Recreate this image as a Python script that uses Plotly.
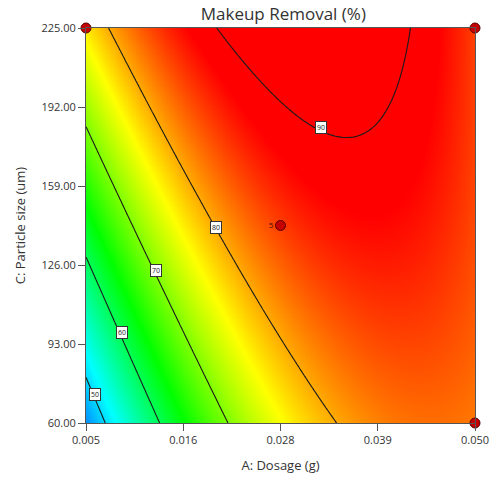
import numpy as np
import plotly.graph_objects as go

# ---- axis definitions ----
A_range = [0.005, 0.050]
C_range = [60.0, 225.0]
x_tickvals = [0.005, 0.01625, 0.0275, 0.03875, 0.050]
x_ticktext = ["0.005", "0.016", "0.028", "0.039", "0.050"]
y_tickvals = [60, 93, 126, 159, 192, 225]
y_ticktext = ["60.00", "93.00", "126.00", "159.00", "192.00", "225.00"]

# ---- contour readings from the picture (A, C) per level ----
c90_A = [0.0203, 0.0256, 0.0322, 0.0350, 0.0411, 0.0422]
c90_C = [225.0, 200.5, 183.6, 179.3, 200.5, 225.0]
c80_A = [0.00755, 0.01193, 0.01802, 0.02008, 0.0342]
c80_C = [225.0, 194.9, 153.2, 141.5, 60.0]
c70_A = [0.005, 0.01311, 0.02133]
c70_C = [183.8, 123.9, 60.0]
c60_A = [0.005, 0.00911, 0.01345]
c60_C = [128.8, 97.6, 60.0]
c50_A = [0.005, 0.00717]
c50_C = [78.9, 60.0]

# ---- extra readings estimated from the shading ----
shade_A = [0.050, 0.050, 0.050, 0.0275, 0.039]
shade_C = [60.0, 225.0, 142.0, 142.5, 100.0]
shade_z = [82.4, 85.2, 84.7, 87.3, 84.2]

# ---- contour label positions ----
lab_A = [0.00603, 0.00911, 0.01311, 0.02008, 0.03218]
lab_C = [71.7, 97.6, 123.9, 141.5, 183.6]
lab_text = ["50", "60", "70", "80", "90"]

# ---- design points ----
dp_A = [0.005, 0.050, 0.050, 0.0275]
dp_C = [225.0, 225.0, 60.0, 142.5]
dp_text = ["", "", "", "5"]

# ---- quadratic response surface fitted to the readings ----
def coded(a, c):
    a = np.asarray(a, float); c = np.asarray(c, float)
    x = (a - 0.0275) / 0.0225
    y = (c - 142.5) / 82.5
    return x, y

def basis(x, y):
    return np.stack([np.ones_like(x), x, y, x * y, x * x, y * y], axis=-1)

pts_A, pts_C, pts_z, pts_w = [], [], [], []
for lev, aa, cc in [(90, c90_A, c90_C), (80, c80_A, c80_C), (70, c70_A, c70_C),
                    (60, c60_A, c60_C), (50, c50_A, c50_C)]:
    pts_A += aa; pts_C += cc; pts_z += [lev] * len(aa); pts_w += [1.0] * len(aa)
pts_A += shade_A; pts_C += shade_C; pts_z += shade_z; pts_w += [0.5] * len(shade_A)
px, py = coded(pts_A, pts_C)
W = np.array(pts_w)
coef, *_ = np.linalg.lstsq(basis(px, py) * W[:, None], np.array(pts_z, float) * W, rcond=None)

gA = np.linspace(A_range[0], A_range[1], 241)
gC = np.linspace(C_range[0], C_range[1], 241)
GA, GC = np.meshgrid(gA, gC)
gx, gy = coded(GA, GC)
Z = basis(gx, gy) @ coef

zmin, zmax = 42.0, 92.0
stops = [(42, "#0046ff"), (52, "#00ffff"), (64, "#00ff00"), (76, "#ffff00"),
         (88, "#ff0000"), (92, "#ff0000")]
colorscale = [[(v - zmin) / (zmax - zmin), col] for v, col in stops]

fig = go.Figure()
fig.add_trace(go.Heatmap(x=gA, y=gC, z=Z, colorscale=colorscale, zmin=zmin, zmax=zmax,
                         zsmooth="best", showscale=False, hoverinfo="skip"))
fig.add_trace(go.Contour(x=gA, y=gC, z=Z, showscale=False, hoverinfo="skip",
                         contours=dict(start=50, end=90, size=10, coloring="none"),
                         line=dict(color="#1a1a1a", width=1.1)))
fig.add_trace(go.Scatter(x=dp_A, y=dp_C, mode="markers+text", text=dp_text,
                         textposition="middle left", cliponaxis=False,
                         textfont=dict(size=8, color="#3a1010", family="Open Sans"),
                         marker=dict(size=10, color="#c40000",
                                     line=dict(color="#5a0000", width=1)),
                         hoverinfo="skip", showlegend=False))

for a, c, t in zip(lab_A, lab_C, lab_text):
    fig.add_annotation(x=a, y=c, text=t, showarrow=False,
                       font=dict(size=7, color="#222", family="Open Sans"),
                       bgcolor="white", bordercolor="#333", borderwidth=1, borderpad=1)

axis_common = dict(showgrid=False, zeroline=False, ticks="outside", ticklen=7,
                   tickcolor="#555", linecolor="#555", linewidth=1, mirror=True,
                   showline=True, tickfont=dict(size=11, color="#333", family="Open Sans"))

fig.update_layout(
    width=501, height=488, autosize=False,
    margin=dict(l=86, r=21, t=28, b=65),
    paper_bgcolor="white", plot_bgcolor="white",
    showlegend=False,
    title=dict(text="Makeup Removal (%)", x=0.5655, xanchor="center", y=0.971, yanchor="middle",
               font=dict(size=17, color="#333", family="Open Sans")),
    xaxis=dict(range=A_range, tickvals=x_tickvals, ticktext=x_ticktext,
               title=dict(text="A: Dosage (g)", standoff=14,
                          font=dict(size=13, color="#333", family="Open Sans")),
               **axis_common),
    yaxis=dict(range=C_range, tickvals=y_tickvals, ticktext=y_ticktext,
               title=dict(text="C: Particle size (um)", standoff=12,
                          font=dict(size=13, color="#333", family="Open Sans")),
               **axis_common),
)

fig.write_html("out.html", config={"displayModeBar": False},
               post_script="document.body.style.margin='0';")
